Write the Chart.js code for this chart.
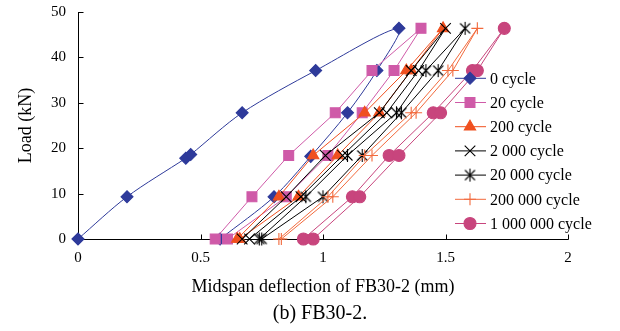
<!DOCTYPE html>
<html>
<head>
<meta charset="utf-8">
<script src="https://cdn.jsdelivr.net/npm/chart.js@4.4.0/dist/chart.umd.min.js"></script>
<style>
    html, body { margin: 0; padding: 0; background: #fff; }
    #wrap { width: 620px; height: 331px; position: relative; }
</style>
</head>
<body>
<div id="wrap"><canvas id="deflChart"></canvas></div>
<script>
// load steps (kN): loading up to the peak, then unloading back to zero
const loadPath = [0, 9.3, 18.4, 27.8, 37.1, 46.4, 37.1, 27.8, 18.4, 9.3, 0];
const loadPath0 = [0, 9.3, 17.8, 18.6, 27.8, 37.1, 46.4, 37.1, 27.8, 18.2, 9.3, 0];

// midspan deflection (mm) read along each path
const defl0 = [0, 0.20, 0.44, 0.46, 0.67, 0.97, 1.31, 1.22, 1.10, 0.95, 0.80, 0.58];
const defl20 = [0.56, 0.71, 0.86, 1.05, 1.20, 1.40, 1.29, 1.16, 1.02, 0.85, 0.61];
const defl200 = [0.65, 0.82, 0.96, 1.17, 1.34, 1.49, 1.36, 1.23, 1.06, 0.90, 0.66];
const defl2000 = [0.67, 0.85, 1.01, 1.23, 1.36, 1.50, 1.39, 1.26, 1.08, 0.91, 0.70];
const defl20000 = [0.74, 0.93, 1.10, 1.30, 1.42, 1.58, 1.47, 1.32, 1.16, 1.00, 0.75];
const defl200000 = [0.82, 1.02, 1.17, 1.36, 1.51, 1.63, 1.53, 1.38, 1.20, 1.04, 0.83];
const defl1000000 = [0.92, 1.12, 1.27, 1.45, 1.61, 1.74, 1.63, 1.48, 1.31, 1.15, 0.96];

const cycleLabels = ['0 cycle', '20 cycle', '200 cycle', '2 000 cycle', '20 000 cycle', '200 000 cycle', '1 000 000 cycle'];
const xTicks = [0, 0.5, 1, 1.5, 2];
const yTicks = [0, 10, 20, 30, 40, 50];
const caption = '(b) FB30-2.';

const serif = "'Liberation Serif', 'Times New Roman', serif";

// asterisk marker (X with a vertical bar)
const star = document.createElement('canvas');
star.width = 15; star.height = 15;
const sc = star.getContext('2d');
sc.strokeStyle = '#000';
sc.lineWidth = 1.1;
sc.beginPath();
sc.moveTo(2.5, 2.5); sc.lineTo(12.5, 12.5);
sc.moveTo(12.5, 2.5); sc.lineTo(2.5, 12.5);
sc.moveTo(7.5, 1); sc.lineTo(7.5, 14);
sc.stroke();

function series(i, xs, ys, color, style, radius, tension) {
    return {
        label: cycleLabels[i],
        data: xs.map((x, k) => ({ x: x, y: ys[k] })),
        showLine: true,
        borderColor: color,
        backgroundColor: color,
        borderWidth: 1,
        pointStyle: style,
        pointRadius: radius,
        pointHoverRadius: radius,
        pointBorderWidth: 1.1,
        pointBackgroundColor: color,
        pointBorderColor: color,
        tension: tension || 0,
        clip: false,
        order: 10 - i
    };
}

const datasets = [
    series(0, defl0, loadPath0, '#2e3a9a', 'rectRot', 6, 0.3),
    series(1, defl20, loadPath, '#cf5aa8', 'rect', 7),
    series(2, defl200, loadPath, '#f0501f', 'triangle', 6.5),
    series(3, defl2000, loadPath, '#000000', 'crossRot', 7.5),
    series(4, defl20000, loadPath, '#000000', star, 7),
    series(5, defl200000, loadPath, '#f26a3c', 'cross', 6),
    series(6, defl1000000, loadPath, '#c8457d', 'circle', 6)
];

// axis lines with inward ticks, legend inside the plot, caption below
const decor = {
    id: 'decor',
    beforeDatasetsDraw(chart) {
        const { ctx, chartArea: a, scales: { x, y } } = chart;
        ctx.save();
        ctx.strokeStyle = '#000';
        ctx.lineWidth = 1;
        ctx.beginPath();
        const ax = Math.round(a.left) + 0.5;
        const ay = Math.round(a.bottom) + 0.5;
        ctx.moveTo(ax, a.top);
        ctx.lineTo(ax, ay);
        ctx.lineTo(a.right + 0.5, ay);
        xTicks.forEach(v => {
            const px = Math.round(x.getPixelForValue(v)) + 0.5;
            ctx.moveTo(px, ay);
            ctx.lineTo(px, ay - 5);
        });
        yTicks.forEach(v => {
            const py = Math.round(y.getPixelForValue(v)) + 0.5;
            ctx.moveTo(ax, py);
            ctx.lineTo(ax + 5, py);
        });
        ctx.stroke();
        ctx.restore();
    },
    afterDatasetsDraw(chart) {
        const { ctx, chartArea: a } = chart;
        ctx.save();
        chart.data.datasets.forEach((ds, i) => {
            const ly = 78.3 + i * 24.2;
            ctx.strokeStyle = ds.borderColor;
            ctx.fillStyle = ds.backgroundColor;
            ctx.lineWidth = 1;
            ctx.beginPath();
            ctx.moveTo(455, ly);
            ctx.lineTo(486, ly);
            ctx.stroke();
            ctx.lineWidth = ds.pointBorderWidth;
            Chart.helpers.drawPoint(ctx, {
                pointStyle: ds.pointStyle,
                radius: ds.pointRadius,
                borderWidth: ds.pointBorderWidth,
                rotation: 0
            }, 470, ly);
            ctx.fillStyle = '#000';
            ctx.font = '16px ' + serif;
            ctx.textBaseline = 'middle';
            ctx.textAlign = 'left';
            ctx.fillText(ds.label, 490, ly + 1);
        });
        ctx.fillStyle = '#000';
        ctx.font = '20px ' + serif;
        ctx.textAlign = 'center';
        ctx.textBaseline = 'middle';
        ctx.fillText(caption, (a.left + a.right) / 2 - 3, 314);
        ctx.restore();
    }
};

new Chart(document.getElementById('deflChart'), {
    type: 'scatter',
    data: { datasets: datasets },
    options: {
        responsive: true,
        maintainAspectRatio: false,
        animation: false,
        events: [],
        layout: { padding: { left: 0, right: 52, top: 12, bottom: 30 } },
        plugins: {
            legend: { display: false },
            tooltip: { enabled: false }
        },
        scales: {
            x: {
                type: 'linear',
                min: 0,
                max: 2,
                afterFit: scale => {
                    scale.height = 62;
                    scale.paddingLeft = 0;
                    scale.paddingRight = 0;
                },
                afterBuildTicks: scale => { scale.ticks = xTicks.map(v => ({ value: v })); },
                grid: { display: false, drawTicks: false },
                border: { display: false },
                ticks: {
                    padding: 10,
                    color: '#000',
                    font: { family: serif, size: 15 },
                    callback: v => String(v)
                },
                title: {
                    display: true,
                    text: 'Midspan deflection of FB30-2 (mm)',
                    color: '#000',
                    font: { family: serif, size: 18 },
                    padding: { top: 0, bottom: 3 }
                }
            },
            y: {
                type: 'linear',
                min: 0,
                max: 50,
                afterFit: scale => {
                    scale.width = 78;
                    scale.paddingTop = 0;
                    scale.paddingBottom = 0;
                },
                afterBuildTicks: scale => { scale.ticks = yTicks.map(v => ({ value: v })); },
                grid: { display: false, drawTicks: false },
                border: { display: false },
                ticks: {
                    padding: 12,
                    color: '#000',
                    font: { family: serif, size: 15 },
                    callback: v => String(v)
                },
                title: {
                    display: true,
                    text: 'Load (kN)',
                    color: '#000',
                    font: { family: serif, size: 18 },
                    padding: { top: 15, bottom: 0 }
                }
            }
        }
    },
    plugins: [decor]
});
</script>
</body>
</html>
